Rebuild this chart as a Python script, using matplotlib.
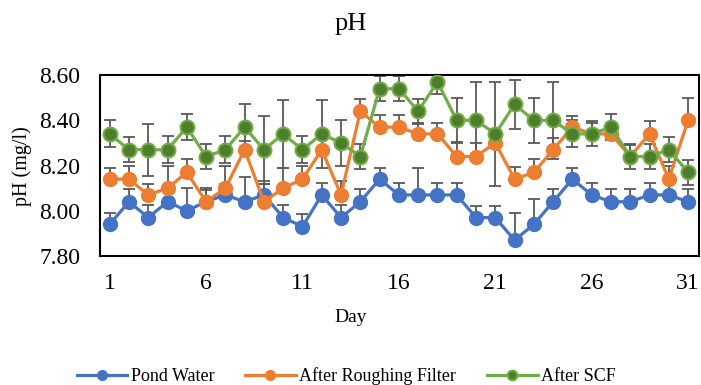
import matplotlib.pyplot as plt

plt.rcParams['font.family'] = ['Liberation Serif', 'DejaVu Serif']

days = list(range(1, 32))

pond = [7.94, 8.04, 7.97, 8.04, 8.00, 8.04, 8.07, 8.04, 8.07, 7.97,
        7.93, 8.07, 7.97, 8.04, 8.14, 8.07, 8.07, 8.07, 8.07, 7.97,
        7.97, 7.87, 7.94, 8.04, 8.14, 8.07, 8.04, 8.04, 8.07, 8.07, 8.04]
pond_err = [0.05, 0.055, 0.055, 0.05, 0.10, 0.05, 0.05, 0.11, 0.05, 0.055,
            0.055, 0.055, 0.055, 0.055, 0.05, 0.055, 0.12, 0.055, 0.055, 0.05,
            0.05, 0.12, 0.11, 0.055, 0.05, 0.055, 0.055, 0.055, 0.055, 0.055, 0.055]

rough = [8.14, 8.14, 8.07, 8.10, 8.17, 8.04, 8.10, 8.27, 8.04, 8.10,
         8.14, 8.27, 8.07, 8.44, 8.37, 8.37, 8.34, 8.34, 8.24, 8.24,
         8.30, 8.14, 8.17, 8.27, 8.37, 8.34, 8.34, 8.24, 8.34, 8.14, 8.40]
rough_err = [0.05, 0.06, 0.05, 0.10, 0.06, 0.06, 0.10, 0.04, 0.09, 0.09,
             0.06, 0.06, 0.06, 0.055, 0.055, 0.055, 0.05, 0.05, 0.065, 0.06,
             0.06, 0.055, 0.06, 0.05, 0.05, 0.05, 0.05, 0.05, 0.057, 0.06, 0.10]

scf = [8.34, 8.27, 8.27, 8.27, 8.37, 8.24, 8.27, 8.37, 8.27, 8.34,
       8.27, 8.34, 8.30, 8.24, 8.54, 8.54, 8.44, 8.57, 8.40, 8.40,
       8.34, 8.47, 8.40, 8.40, 8.34, 8.34, 8.37, 8.24, 8.24, 8.27, 8.17]
scf_err = [0.06, 0.055, 0.115, 0.06, 0.057, 0.055, 0.06, 0.10, 0.15, 0.15,
           0.06, 0.15, 0.10, 0.055, 0.055, 0.055, 0.055, 0.055, 0.10, 0.17,
           0.23, 0.11, 0.10, 0.17, 0.06, 0.055, 0.057, 0.055, 0.055, 0.055, 0.055]

yticks = [7.80, 8.00, 8.20, 8.40, 8.60]
xticks = [1, 6, 11, 16, 21, 26, 31]

fig = plt.figure(figsize=(7.01, 3.85), dpi=100)
ax = fig.add_axes([0.1427, 0.335, 0.854, 0.47])

err_color = '#595959'
# error bars sit behind the lines; pond / roughing only show the upper half
ax.errorbar(days, pond, yerr=[[0] * 31, pond_err], fmt='none', ecolor=err_color,
            elinewidth=1.3, capsize=4.5, capthick=1.3, zorder=1)
ax.errorbar(days, rough, yerr=[[0] * 31, rough_err], fmt='none', ecolor=err_color,
            elinewidth=1.3, capsize=4.5, capthick=1.3, zorder=1)
ax.errorbar(days, scf, yerr=scf_err, fmt='none', ecolor=err_color,
            elinewidth=1.3, capsize=4.5, capthick=1.3, zorder=1)

ax.plot(days, pond, color='#4472C4', lw=2.3, marker='o', ms=10,
        mfc='#4472C4', mec='#4472C4', label='Pond Water', zorder=3)
ax.plot(days, rough, color='#ED7D31', lw=2.3, marker='o', ms=10,
        mfc='#ED7D31', mec='#ED7D31', label='After Roughing Filter', zorder=3)
ax.plot(days, scf, color='#70AD47', lw=2.3, marker='o', ms=10,
        mfc='#4E7D2C', mec='#70AD47', mew=1.5, label='After SCF', zorder=3)

ax.set_xlim(0.5, 31.55)
ax.set_ylim(7.80, 8.60)
ax.set_xticks(xticks)
ax.set_yticks(yticks)
ax.set_yticklabels(['%.2f' % v for v in yticks])
ax.tick_params(length=0, labelsize=17)
ax.tick_params(axis='y', pad=14)
ax.tick_params(axis='x', pad=12)
for s in ax.spines.values():
    s.set_linewidth(1.5)
    s.set_color('black')

fig.text(0.5, 1 - 318 / 385, 'Day', fontsize=14, ha='center', va='center')
fig.text(22 / 701, 1 - 166 / 385, 'pH (mg/l)', fontsize=14.5, ha='center',
         va='center', rotation=90)
fig.text(0.5, 1 - 24 / 385, 'pH', fontsize=19, ha='center', va='center')

fig.legend(loc='center', bbox_to_anchor=(0.494, 1 - 376 / 385), ncol=3, frameon=False,
           fontsize=13, handlelength=2.8, handletextpad=0.2, columnspacing=1.7,
           markerscale=0.7)

fig.savefig('out.png', dpi=100)
